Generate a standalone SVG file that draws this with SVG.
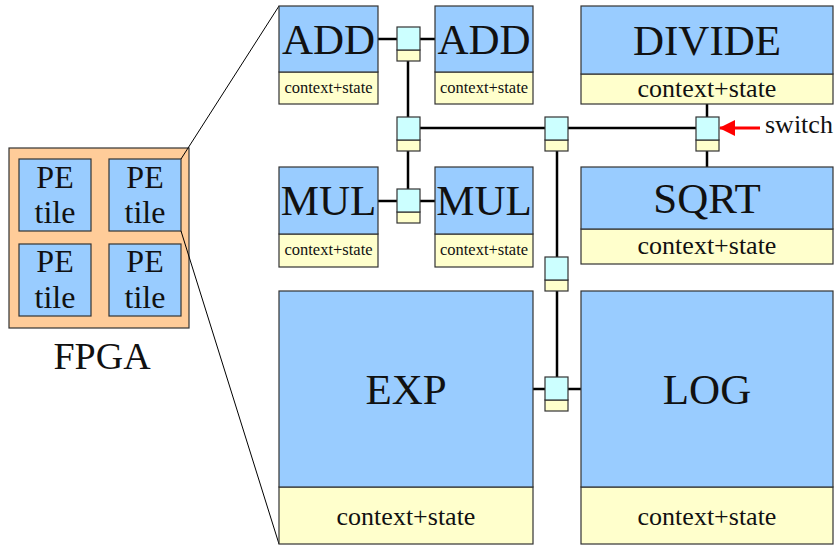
<svg xmlns="http://www.w3.org/2000/svg" width="838" height="546" viewBox="0 0 838 546">
  <style>
    .pe { fill: #99ccff; stroke: #333; stroke-width: 1.2; }
    .ctx { fill: #ffffcc; stroke: #333; stroke-width: 1.2; }
    .sw { fill: #ccffff; stroke: #333; stroke-width: 1.2; }
    .swc { fill: #ffffcc; stroke: #333; stroke-width: 1.2; }
    .fpga { fill: #ffcc99; stroke: #333; stroke-width: 1.2; }
    .wire { stroke: #000; stroke-width: 2.5; fill: none; }
    .zoom { stroke: #000; stroke-width: 1; fill: none; }
    text { font-family: "Liberation Serif", "Times New Roman", serif; fill: #111; text-anchor: middle; }
    .big { font-size: 43px; }
    .mid { font-size: 26px; }
    .small { font-size: 16.5px; }
    .tile { font-size: 32px; }
  </style>
  <defs>
    <marker id="arrow" viewBox="0 0 16 16" refX="15" refY="8" markerWidth="16" markerHeight="16" markerUnits="userSpaceOnUse" orient="auto">
      <path d="M0,0 L16,8 L0,16 Z" fill="#ff0000"/>
    </marker>
    <g id="switch">
      <rect class="swc" x="0" y="23" width="23" height="11"/>
      <rect class="sw" x="0" y="0" width="23" height="23"/>
    </g>
  </defs>

  <!-- FPGA overview -->
  <g id="fpga">
    <rect class="fpga" x="9" y="148" width="180" height="180"/>
    <text x="102" y="369" style="font-size:38px">FPGA</text>
  </g>
  <g id="tile-tl">
    <rect class="pe" x="19" y="159" width="72" height="72"/>
    <text class="tile" x="55" y="188">PE</text>
    <text class="tile" x="55" y="223">tile</text>
  </g>
  <g id="tile-tr">
    <rect class="pe" x="109" y="159" width="72" height="72"/>
    <text class="tile" x="145" y="188">PE</text>
    <text class="tile" x="145" y="223">tile</text>
  </g>
  <g id="tile-bl">
    <rect class="pe" x="19" y="244" width="72" height="72"/>
    <text class="tile" x="55" y="272">PE</text>
    <text class="tile" x="55" y="308">tile</text>
  </g>
  <g id="tile-br">
    <rect class="pe" x="109" y="244" width="72" height="72"/>
    <text class="tile" x="145" y="272">PE</text>
    <text class="tile" x="145" y="308">tile</text>
  </g>

  <!-- Connectors: zoom lines, wires between units and switches -->
  <g id="connectors">
    <line class="zoom" x1="181" y1="159" x2="279" y2="6"/>
    <line class="zoom" x1="181" y1="231" x2="279" y2="544"/>
    <line class="wire" x1="378" y1="39" x2="397" y2="39"/>
    <line class="wire" x1="420" y1="39" x2="435" y2="39"/>
    <line class="wire" x1="408" y1="61" x2="408" y2="117"/>
    <line class="wire" x1="408" y1="151" x2="408" y2="189"/>
    <line class="wire" x1="378" y1="201" x2="397" y2="201"/>
    <line class="wire" x1="420" y1="201" x2="435" y2="201"/>
    <line class="wire" x1="420" y1="128" x2="545" y2="128"/>
    <line class="wire" x1="568" y1="128" x2="696" y2="128"/>
    <line class="wire" x1="707" y1="104" x2="707" y2="117"/>
    <line class="wire" x1="707" y1="151" x2="707" y2="167"/>
    <line class="wire" x1="557" y1="151" x2="557" y2="257"/>
    <line class="wire" x1="557" y1="291" x2="557" y2="377"/>
    <line class="wire" x1="533" y1="389" x2="545" y2="389"/>
    <line class="wire" x1="568" y1="389" x2="581" y2="389"/>
    <line x1="760" y1="128" x2="720" y2="128" stroke="#ff0000" stroke-width="3" marker-end="url(#arrow)"/>
  </g>

  <!-- Functional units -->
  <g id="add1">
    <rect class="ctx" x="279" y="72" width="99" height="32"/>
    <rect class="pe" x="279" y="6" width="99" height="66"/>
    <text class="big" x="328.5" y="54">ADD</text>
    <text class="small" x="328.5" y="93">context+state</text>
  </g>
  <g id="add2">
    <rect class="ctx" x="435" y="72" width="98" height="32"/>
    <rect class="pe" x="435" y="6" width="98" height="66"/>
    <text class="big" x="484" y="54">ADD</text>
    <text class="small" x="484" y="93">context+state</text>
  </g>
  <g id="mul1">
    <rect class="ctx" x="279" y="234" width="99" height="33"/>
    <rect class="pe" x="279" y="167" width="99" height="67"/>
    <text class="big" x="328.5" y="215">MUL</text>
    <text class="small" x="328.5" y="255">context+state</text>
  </g>
  <g id="mul2">
    <rect class="ctx" x="435" y="234" width="98" height="33"/>
    <rect class="pe" x="435" y="167" width="98" height="67"/>
    <text class="big" x="484" y="215">MUL</text>
    <text class="small" x="484" y="255">context+state</text>
  </g>
  <g id="divide">
    <rect class="ctx" x="581" y="74" width="252" height="30"/>
    <rect class="pe" x="581" y="6" width="252" height="68"/>
    <text class="big" x="707" y="55">DIVIDE</text>
    <text class="mid" x="707" y="97">context+state</text>
  </g>
  <g id="sqrt">
    <rect class="ctx" x="581" y="229" width="252" height="35"/>
    <rect class="pe" x="581" y="167" width="252" height="62"/>
    <text class="big" x="707" y="213">SQRT</text>
    <text class="mid" x="707" y="254">context+state</text>
  </g>
  <g id="exp">
    <rect class="ctx" x="279" y="487" width="254" height="57"/>
    <rect class="pe" x="279" y="291" width="254" height="196"/>
    <text class="big" x="406" y="404">EXP</text>
    <text class="mid" x="406" y="525">context+state</text>
  </g>
  <g id="log">
    <rect class="ctx" x="581" y="487" width="252" height="57"/>
    <rect class="pe" x="581" y="291" width="252" height="196"/>
    <text class="big" x="707" y="404">LOG</text>
    <text class="mid" x="707" y="525">context+state</text>
  </g>

  <!-- Switches -->
  <g id="sw-add"><use href="#switch" x="397" y="27"/></g>
  <g id="sw-mid"><use href="#switch" x="397" y="117"/></g>
  <g id="sw-mul"><use href="#switch" x="397" y="189"/></g>
  <g id="sw-center"><use href="#switch" x="545" y="117"/></g>
  <g id="sw-div"><use href="#switch" x="696" y="117"/></g>
  <g id="sw-low"><use href="#switch" x="545" y="257"/></g>
  <g id="sw-exp"><use href="#switch" x="545" y="377"/></g>

  <g id="switch-label">
    <text x="765" y="133" style="font-size:26px;text-anchor:start">switch</text>
  </g>
</svg>
